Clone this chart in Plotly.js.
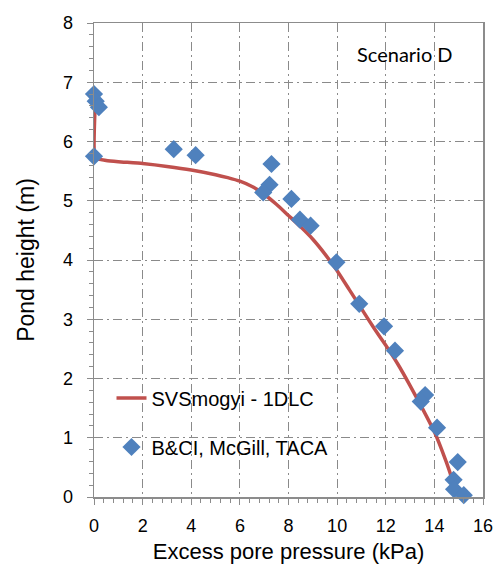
<!DOCTYPE html>
<html>
<head>
<meta charset="utf-8">
<script src="https://cdn.plot.ly/plotly-3.0.1.min.js"></script>
<style>
  html, body { margin: 0; padding: 0; background: #fff; }
  #chart { width: 495px; height: 569px; }
</style>
</head>
<body>
<div id="chart"></div>
<script>
// Model prediction: SVSmogyi - 1DLC
const modelPressure = [0.05, 0.05, 0.5, 1, 2, 3, 4, 5, 5.5, 6, 6.5, 7, 7.5, 8, 8.5, 9, 9.5, 10, 10.5, 11, 11.5, 12, 12.5, 13, 13.5, 14, 14.3, 14.5, 14.65, 14.78];
const modelHeight   = [6.62, 5.72, 5.68, 5.66, 5.63, 5.58, 5.52, 5.44, 5.39, 5.33, 5.24, 5.11, 4.94, 4.75, 4.56, 4.35, 4.10, 3.82, 3.50, 3.18, 2.86, 2.56, 2.24, 1.88, 1.50, 1.10, 0.80, 0.58, 0.40, 0.20];

// Measured points: B&CI, McGill, TACA
const measPressure = [0, 0.07, 0.2, 0, 3.28, 4.18, 7.3, 7.22, 6.96, 8.12, 8.47, 8.91, 9.97, 10.91, 11.93, 12.38, 13.62, 13.44, 14.11, 14.96, 14.79, 14.81, 15.21];
const measHeight   = [6.80, 6.68, 6.58, 5.75, 5.87, 5.77, 5.62, 5.27, 5.14, 5.03, 4.68, 4.58, 3.96, 3.26, 2.88, 2.47, 1.72, 1.61, 1.17, 0.59, 0.29, 0.13, 0.03];

const seriesNames = ['SVSmogyi - 1DLC', 'B&CI, McGill, TACA'];
const xTitle = 'Excess pore pressure (kPa)';
const yTitle = 'Pond height (m)';
const scenarioLabel = 'Scenario D';

const axisColor = '#8c8c8c';
const gridColor = '#8a8a8a';
const sansFamily = "'Liberation Sans', Arial, sans-serif";
const tickFont = { family: sansFamily, size: 18, color: '#000' };
const legendFont = { family: sansFamily, size: 20, color: '#000' };

const traces = [
  {
    x: modelPressure, y: modelHeight,
    type: 'scatter', mode: 'lines',
    name: seriesNames[0], legendgroup: 'model',
    line: { color: '#C0504D', width: 3.5, shape: 'spline', smoothing: 0.4 },
    hoverinfo: 'skip'
  },
  {
    x: measPressure, y: measHeight,
    type: 'scatter', mode: 'markers',
    name: seriesNames[1], legendgroup: 'measured',
    cliponaxis: false,
    marker: { symbol: 'diamond', size: 14, color: '#4F81BD' },
    hoverinfo: 'skip'
  }
];

const axisCommon = {
  showline: true, linecolor: axisColor, linewidth: 1.5, mirror: true,
  showgrid: true, gridcolor: gridColor, gridwidth: 1, griddash: '9px,4px,2px,4px',
  zeroline: false,
  ticks: 'outside', ticklen: 6, tickcolor: axisColor, tickwidth: 1,
  tickfont: tickFont,
  fixedrange: true
};

const layout = {
  width: 495, height: 569,
  margin: { l: 94, r: 12, t: 23, b: 72 },
  paper_bgcolor: '#fff', plot_bgcolor: '#fff',
  showlegend: true,
  legend: {
    x: 0.045, y: 0.25, xanchor: 'left', yanchor: 'top',
    bgcolor: 'rgba(255,255,255,0)', borderwidth: 0,
    font: legendFont, tracegroupgap: 20, traceorder: 'grouped'
  },
  xaxis: Object.assign({}, axisCommon, {
    range: [0, 16], dtick: 2, tick0: 0, ticklabelstandoff: 6,
    minor: { dtick: 0.4, ticks: 'outside', ticklen: 4, tickcolor: axisColor, showgrid: false },
    title: { text: xTitle, font: { family: sansFamily, size: 22, color: '#000' }, standoff: 8 }
  }),
  yaxis: Object.assign({}, axisCommon, {
    range: [0, 8], dtick: 1, tick0: 0, ticklabelstandoff: 10,
    minor: { dtick: 0.2, ticks: 'outside', ticklen: 4, tickcolor: axisColor, showgrid: false },
    title: { text: yTitle, font: { family: sansFamily, size: 23, color: '#000' }, standoff: 22 }
  }),
  annotations: [{
    x: 12.8, y: 7.47, xref: 'x', yref: 'y',
    text: scenarioLabel, showarrow: false,
    font: { family: 'Lato, Open Sans, sans-serif', size: 20, color: '#000' }
  }]
};

Plotly.newPlot('chart', traces, layout, { staticPlot: true, displayModeBar: false });
</script>
</body>
</html>
